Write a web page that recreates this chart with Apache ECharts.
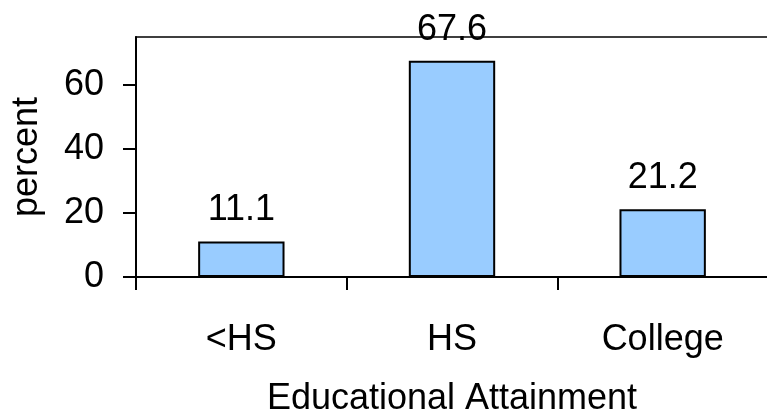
<!DOCTYPE html>
<html>
<head>
<meta charset="utf-8">
<script src="https://cdn.jsdelivr.net/npm/echarts@6/dist/echarts.min.js"></script>
<style>
  html, body { margin: 0; padding: 0; background: #fff; }
  #chart { width: 767px; height: 415px; }
</style>
</head>
<body>
<div id="chart"></div>
<script>
// Share of respondents by educational attainment (percent)
const categories = ['<HS', 'HS', 'College'];
const percentValues = [11.1, 67.6, 21.2];
const yTickValues = [0, 20, 40, 60];

const FONT = '"Liberation Sans", Arial, sans-serif';
const chart = echarts.init(document.getElementById('chart'), null, { renderer: 'canvas' });

chart.setOption({
  animation: false,
  backgroundColor: '#ffffff',
  textStyle: { fontFamily: FONT, color: '#000' },
  grid: {
    left: 136, top: 37, right: -1, bottom: 138,
    outerBoundsMode: 'none',
    containLabel: false,
    show: true, borderColor: '#000', borderWidth: 1.5, backgroundColor: 'transparent'
  },
  xAxis: {
    type: 'category',
    data: categories,
    boundaryGap: true,
    name: 'Educational Attainment',
    nameLocation: 'middle',
    nameGap: 104,
    nameTextStyle: { fontFamily: FONT, fontSize: 36, color: '#000' },
    axisLine: { lineStyle: { color: '#000', width: 2 } },
    axisTick: { show: true, length: 13, alignWithLabel: false, lineStyle: { color: '#000', width: 2 } },
    axisLabel: { fontFamily: FONT, fontSize: 36, color: '#000', margin: 45 },
    splitLine: { show: false }
  },
  yAxis: {
    type: 'value',
    min: 0, max: 75, interval: 20,
    name: 'percent',
    nameLocation: 'middle',
    nameGap: 91,
    nameRotate: 90,
    nameTextStyle: { fontFamily: FONT, fontSize: 36, color: '#000' },
    axisLine: { show: true, lineStyle: { color: '#000', width: 2 } },
    axisTick: { show: true, length: 13, customValues: yTickValues, lineStyle: { color: '#000', width: 2 } },
    axisLabel: { fontFamily: FONT, fontSize: 36, color: '#000', margin: 32, customValues: yTickValues },
    splitLine: { show: false }
  },
  series: [{
    type: 'bar',
    data: percentValues,
    barWidth: '41%',
    itemStyle: { color: '#99CCFF', borderColor: '#000', borderWidth: 2 },
    label: {
      show: true, position: 'top', distance: 13,
      fontFamily: FONT, fontSize: 36, color: '#000'
    }
  }]
});
</script>
</body>
</html>
